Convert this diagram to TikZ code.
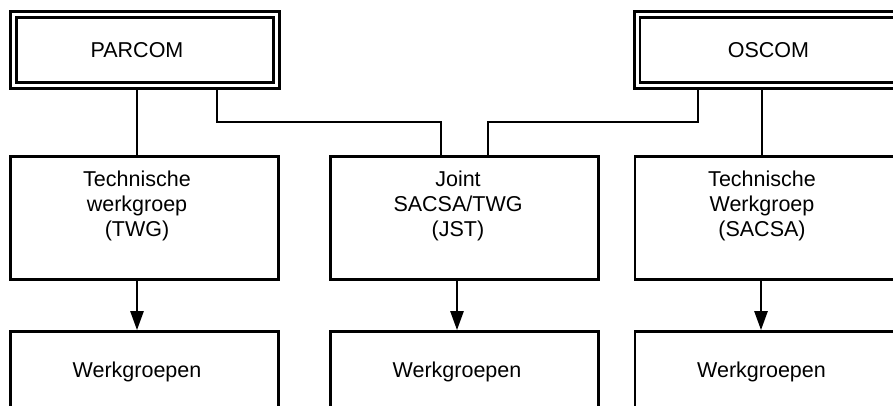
\documentclass[tikz,border=0pt]{standalone}
\usepackage{fontspec}
\setmainfont{Liberation Sans}
\usetikzlibrary{arrows.meta}
\tikzset{
  topbox/.style={draw, double, double distance=3pt, line width=2.6pt, outer sep=4pt, inner sep=0pt, minimum width=263pt, minimum height=71pt},
  orgbox/.style={draw, line width=2.7pt, inner sep=0pt, minimum width=268pt, minimum height=123.5pt},
  wgbox/.style={orgbox, minimum height=120pt},
  boxtext/.style={align=center, font=\fontsize{21.5}{25}\selectfont},
  link/.style={line width=2.5pt},
  feed/.style={link, -{Triangle[length=19pt,width=13pt]}}
}

\begin{document}
\begin{tikzpicture}[x=1pt, y=-1pt]

        \useasboundingbox (0,0) rectangle (893,406);
        \clip (0,0) rectangle (893,406);

        % row1
        \node[topbox, label={[name=parcomtxt, boxtext, xshift=-8pt]center:PARCOM}] (parcom) at (145,50) {};
        \node[topbox, label={[name=oscomtxt, boxtext]center:OSCOM}] (oscom) at (768.5,50) {};

        % row2
        \node[orgbox, label={[name=twgtxt, boxtext, xshift=-7.5pt, yshift=12pt]center:Technische\\werkgroep\\(TWG)}] (twg) at (144.5,218) {};
        \node[orgbox, label={[name=jsttxt, boxtext, xshift=-6.5pt, yshift=12pt]center:Joint\\SACSA/TWG\\(JST)}] (jst) at (464.5,218) {};
        \node[orgbox, label={[name=sacsatxt, boxtext, xshift=-7pt, yshift=12pt]center:Technische\\Werkgroep\\(SACSA)}] (sacsa) at (769,218) {};

        % row3
        \node[wgbox, label={[name=wgatxt, boxtext, xshift=-7.5pt, yshift=19.5pt]center:Werkgroepen}] (wga) at (144.5,391.5) {};
        \node[wgbox, label={[name=wgbtxt, boxtext, xshift=-7.5pt, yshift=19.5pt]center:Werkgroepen}] (wgb) at (464.5,391.5) {};
        \node[wgbox, label={[name=wgctxt, boxtext, xshift=-7.5pt, yshift=19.5pt]center:Werkgroepen}] (wgc) at (769,391.5) {};

        % links
        \coordinate (bus) at (0,122);
        \coordinate (jl) at ([xshift=-23.5pt]jst.north);
        \coordinate (jr) at ([xshift=23.5pt]jst.north);

        \draw[link] ([xshift=-8pt]parcom.south) -- ([xshift=-7.5pt]twg.north);
        \draw[link] ([xshift=72pt]parcom.south) |- (bus -| jl) -- (jl);
        \draw[link] ([xshift=-70.5pt]oscom.south) |- (bus -| jr) -- (jr);
        \draw[link] ([xshift=-6.5pt]oscom.south) -- ([xshift=-7pt]sacsa.north);

        % arrows
        \draw[feed] ([xshift=-7.5pt]twg.south) -- ([xshift=-7.5pt]wga.north);
        \draw[feed] ([xshift=-7.5pt]jst.south) -- ([xshift=-7.5pt]wgb.north);
        \draw[feed] ([xshift=-8pt]sacsa.south) -- ([xshift=-8pt]wgc.north);

    \end{tikzpicture}
\end{document}
